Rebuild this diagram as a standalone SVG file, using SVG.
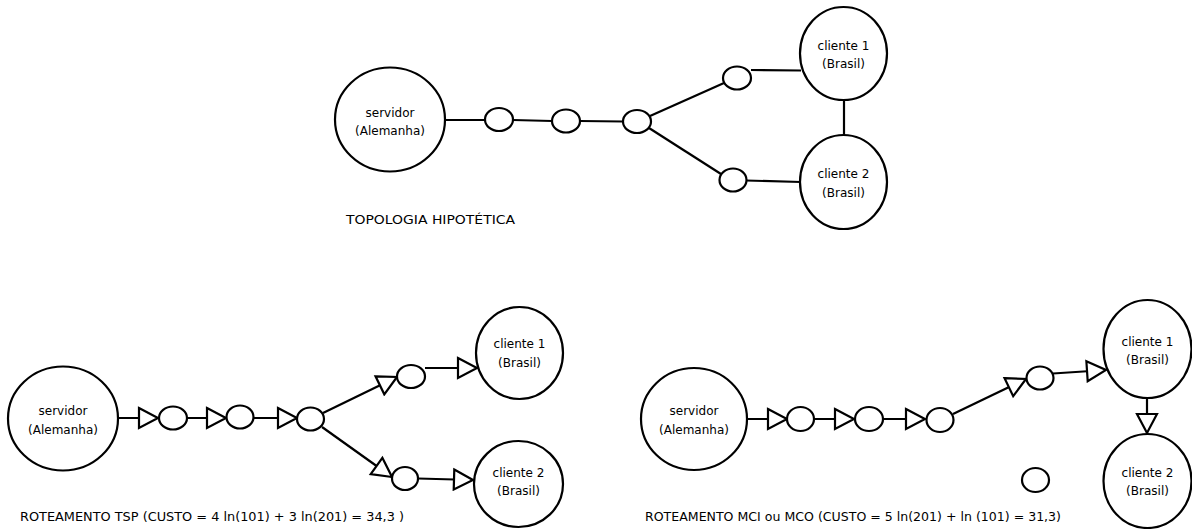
<svg xmlns="http://www.w3.org/2000/svg" width="1192" height="529" viewBox="0 0 1192 529">
  <style>
    .node { fill: #ffffff; stroke: #000000; stroke-width: 2.2; }
    .hop { fill: #ffffff; stroke: #000000; stroke-width: 2.2; }
    .link { fill: none; stroke: #000000; stroke-width: 2.2; }
    .arrow { fill: none; stroke: #000000; stroke-width: 2.2; marker-end: url(#openTri); }
    .label { font-family: "DejaVu Sans", "Liberation Sans", sans-serif; font-size: 12px; fill: #000000; text-anchor: middle; }
    .caption { font-family: "DejaVu Sans", "Liberation Sans", sans-serif; font-size: 12.5px; fill: #000000; }
  </style>
  <defs>
    <!-- open triangular arrowhead, tip placed on the line end -->
    <marker id="openTri" markerUnits="userSpaceOnUse" viewBox="-2 -2 24 24" markerWidth="24" markerHeight="24" refX="19" refY="10" orient="auto">
      <path d="M0,0 L19,10 L0,20 Z" fill="#ffffff" stroke="#000000" stroke-width="2.2" stroke-linejoin="miter"/>
    </marker>
  </defs>
  <rect x="0" y="0" width="1192" height="529" fill="#ffffff"/>

  <!-- ===== Topologia hipotética ===== -->
  <g id="top-links">
    <line class="link" x1="445" y1="120" x2="485" y2="120"/>
    <line class="link" x1="513" y1="120" x2="552" y2="121"/>
    <line class="link" x1="580" y1="121" x2="623" y2="121.5"/>
    <line class="link" x1="650" y1="116" x2="724" y2="83"/>
    <line class="link" x1="649" y1="128" x2="721" y2="174"/>
    <line class="link" x1="751" y1="70" x2="801" y2="70.5"/>
    <line class="link" x1="746" y1="180.5" x2="801" y2="182"/>
    <line class="link" x1="844" y1="100" x2="844" y2="135"/>
  </g>
  <g id="top-servidor">
    <ellipse class="node" cx="390" cy="119.5" rx="55" ry="52"/>
    <text class="label" x="390" y="117">servidor</text>
    <text class="label" x="390" y="135">(Alemanha)</text>
  </g>
  <g id="top-r1"><ellipse class="hop" cx="499" cy="119.5" rx="14" ry="11.5"/></g>
  <g id="top-r2"><ellipse class="hop" cx="566" cy="121" rx="14" ry="11.5"/></g>
  <g id="top-r3"><ellipse class="hop" cx="637" cy="121.5" rx="14" ry="11.5"/></g>
  <g id="top-r4"><ellipse class="hop" cx="737" cy="78" rx="14" ry="11.5"/></g>
  <g id="top-r5"><ellipse class="hop" cx="733" cy="180" rx="13.5" ry="11.5"/></g>
  <g id="top-cliente1">
    <ellipse class="node" cx="843.5" cy="53.5" rx="43.5" ry="46.5"/>
    <text class="label" x="843.5" y="50">cliente 1</text>
    <text class="label" x="843.5" y="68">(Brasil)</text>
  </g>
  <g id="top-cliente2">
    <ellipse class="node" cx="843.5" cy="182" rx="43.5" ry="47"/>
    <text class="label" x="843.5" y="178">cliente 2</text>
    <text class="label" x="843.5" y="197">(Brasil)</text>
  </g>
  <text class="caption" x="346" y="224" textLength="169" lengthAdjust="spacingAndGlyphs">TOPOLOGIA HIPOTÉTICA</text>

  <!-- ===== Roteamento TSP ===== -->
  <g id="tsp-links">
    <line class="arrow" x1="118" y1="418" x2="158" y2="418"/>
    <line class="arrow" x1="187" y1="418" x2="226" y2="418"/>
    <line class="arrow" x1="254" y1="418" x2="297" y2="418"/>
    <line class="arrow" x1="323" y1="413" x2="397" y2="377"/>
    <line class="arrow" x1="425" y1="368" x2="477" y2="368"/>
    <line class="arrow" x1="322" y1="427" x2="392" y2="477"/>
    <line class="arrow" x1="418" y1="478.5" x2="473" y2="480"/>
  </g>
  <g id="tsp-servidor">
    <ellipse class="node" cx="63" cy="418.5" rx="55" ry="52"/>
    <text class="label" x="63" y="415">servidor</text>
    <text class="label" x="63" y="434">(Alemanha)</text>
  </g>
  <g id="tsp-r1"><ellipse class="hop" cx="173" cy="418" rx="14" ry="11.5"/></g>
  <g id="tsp-r2"><ellipse class="hop" cx="240" cy="417" rx="13.5" ry="11.5"/></g>
  <g id="tsp-r3"><ellipse class="hop" cx="310.5" cy="419" rx="13.5" ry="11.5"/></g>
  <g id="tsp-r4"><ellipse class="hop" cx="411" cy="376.5" rx="14" ry="11.5"/></g>
  <g id="tsp-r5"><ellipse class="hop" cx="405" cy="478.5" rx="13" ry="11.5"/></g>
  <g id="tsp-cliente1">
    <ellipse class="node" cx="519.5" cy="353" rx="43.5" ry="46"/>
    <text class="label" x="519.5" y="348">cliente 1</text>
    <text class="label" x="519.5" y="367">(Brasil)</text>
  </g>
  <g id="tsp-cliente2">
    <ellipse class="node" cx="518.5" cy="484" rx="44.5" ry="43"/>
    <text class="label" x="518.5" y="477">cliente 2</text>
    <text class="label" x="518.5" y="495">(Brasil)</text>
  </g>
  <text class="caption" x="20" y="521" textLength="384" lengthAdjust="spacingAndGlyphs">ROTEAMENTO TSP (CUSTO = 4 ln(101) + 3 ln(201) = 34,3 )</text>

  <!-- ===== Roteamento MCI / MCO ===== -->
  <g id="mci-links">
    <line class="arrow" x1="747" y1="419" x2="787" y2="419"/>
    <line class="arrow" x1="814" y1="419" x2="854" y2="419"/>
    <line class="arrow" x1="883" y1="419" x2="925" y2="419"/>
    <line class="arrow" x1="953" y1="414" x2="1026" y2="379"/>
    <line class="arrow" x1="1053" y1="373.5" x2="1106" y2="370"/>
    <line class="arrow" x1="1147" y1="398" x2="1147" y2="433"/>
  </g>
  <g id="mci-servidor">
    <ellipse class="node" cx="694" cy="419" rx="53" ry="51"/>
    <text class="label" x="694" y="415">servidor</text>
    <text class="label" x="694" y="434">(Alemanha)</text>
  </g>
  <g id="mci-r1"><ellipse class="hop" cx="800.5" cy="419" rx="13.5" ry="12"/></g>
  <g id="mci-r2"><ellipse class="hop" cx="869" cy="419" rx="14" ry="12"/></g>
  <g id="mci-r3"><ellipse class="hop" cx="940" cy="420" rx="13.5" ry="12"/></g>
  <g id="mci-r4"><ellipse class="hop" cx="1040" cy="378" rx="13.5" ry="11.5"/></g>
  <g id="mci-r5"><ellipse class="hop" cx="1035.5" cy="480" rx="13.5" ry="12"/></g>
  <g id="mci-cliente1">
    <ellipse class="node" cx="1147.5" cy="349" rx="44" ry="49"/>
    <text class="label" x="1147.5" y="346">cliente 1</text>
    <text class="label" x="1147.5" y="364">(Brasil)</text>
  </g>
  <g id="mci-cliente2">
    <ellipse class="node" cx="1147.5" cy="481" rx="44" ry="47"/>
    <text class="label" x="1147.5" y="477">cliente 2</text>
    <text class="label" x="1147.5" y="495">(Brasil)</text>
  </g>
  <text class="caption" x="645" y="521" textLength="416" lengthAdjust="spacingAndGlyphs">ROTEAMENTO MCI ou MCO (CUSTO = 5 ln(201) + ln (101) = 31,3)</text>
</svg>
